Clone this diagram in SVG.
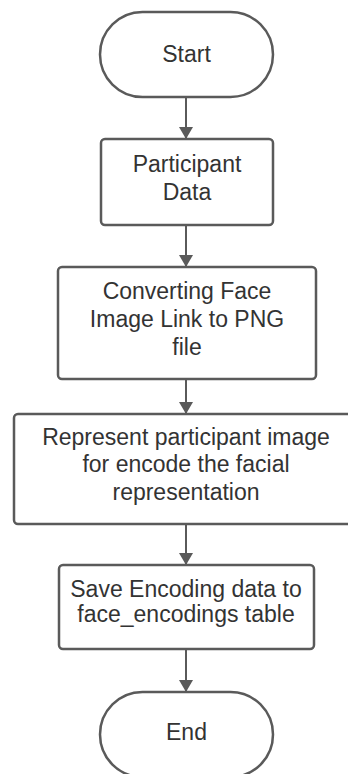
<svg xmlns="http://www.w3.org/2000/svg" width="348" height="774" viewBox="0 0 348 774">
<style>
.shape{fill:#ffffff;stroke:#5a5a5a;stroke-width:2.5}
.lbl{font-family:"Liberation Sans",Arial,sans-serif;font-size:23px;fill:#333333;text-anchor:middle}
.conn{stroke:#5a5a5a;stroke-width:2;fill:none}
</style>
<defs>
<marker id="arr" markerWidth="12" markerHeight="14" refX="12" refY="7" orient="auto" markerUnits="userSpaceOnUse">
<path d="M0,0 L12,7 L0,14 Z" fill="#5a5a5a"/>
</marker>
</defs>
<rect width="348" height="774" fill="#ffffff"/>
<g id="connectors">
<line class="conn" x1="186" y1="98" x2="186" y2="139" marker-end="url(#arr)"/>
<line class="conn" x1="186" y1="226" x2="186" y2="267" marker-end="url(#arr)"/>
<line class="conn" x1="186" y1="380" x2="186" y2="414" marker-end="url(#arr)"/>
<line class="conn" x1="186" y1="525" x2="186" y2="565" marker-end="url(#arr)"/>
<line class="conn" x1="186" y1="650" x2="186" y2="692" marker-end="url(#arr)"/>
</g>
<g id="start">
<rect class="shape" x="100" y="12" width="173" height="85" rx="42.5" ry="42.5"/>
<text class="lbl" x="186.5" y="62">Start</text>
</g>
<g id="participant-data">
<rect class="shape" x="101" y="139" width="172" height="86" rx="4"/>
<text class="lbl" x="187" y="172">Participant</text>
<text class="lbl" x="187" y="200">Data</text>
</g>
<g id="converting">
<rect class="shape" x="58" y="267" width="258" height="112" rx="4"/>
<text class="lbl" x="187" y="299">Converting Face</text>
<text class="lbl" x="187" y="327">Image Link to PNG</text>
<text class="lbl" x="187" y="355">file</text>
</g>
<g id="represent">
<rect class="shape" x="14" y="414" width="345" height="110" rx="4"/>
<text class="lbl" x="186" y="445">Represent participant image</text>
<text class="lbl" x="186" y="472">for encode the facial</text>
<text class="lbl" x="186" y="500">representation</text>
</g>
<g id="save-encoding">
<rect class="shape" x="59" y="565" width="255" height="84" rx="4"/>
<text class="lbl" x="186" y="597">Save Encoding data to</text>
<text class="lbl" x="186" y="622">face_encodings table</text>
</g>
<g id="end">
<rect class="shape" x="100" y="692" width="173" height="85" rx="42.5" ry="42.5"/>
<text class="lbl" x="186.5" y="740">End</text>
</g>
</svg>
